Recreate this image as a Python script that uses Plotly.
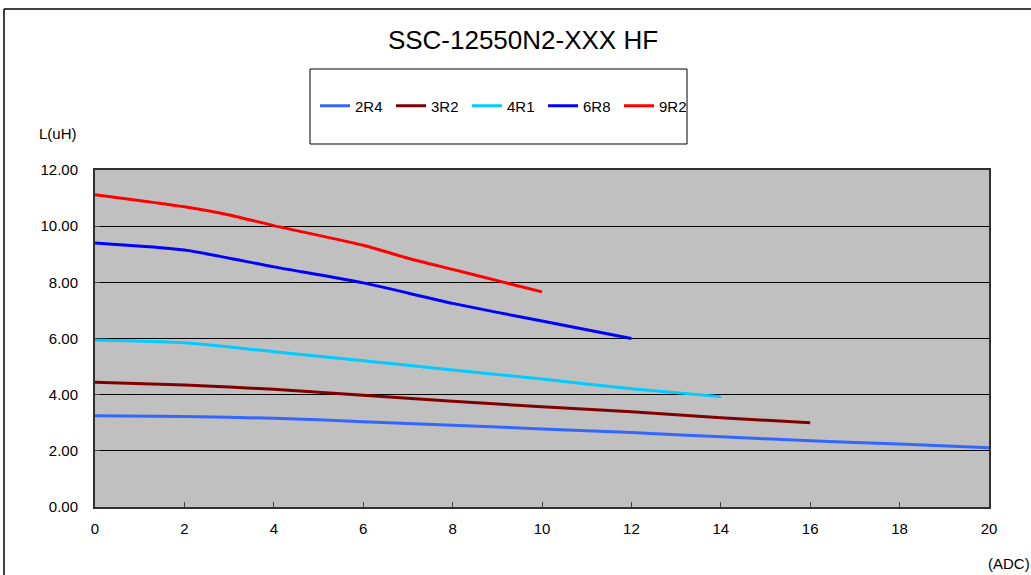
import plotly.graph_objects as go

title_text = "SSC-12550N2-XXX HF"
series_names = ["2R4", "3R2", "4R1", "6R8", "9R2"]
series_colors = ["#3366FF", "#800000", "#00CCFF", "#0000FF", "#FF0000"]

x_2r4 = [0, 2, 4, 6, 8, 10, 12, 14, 16, 18, 20]
y_2r4 = [3.25, 3.22, 3.16, 3.04, 2.91, 2.78, 2.65, 2.50, 2.36, 2.24, 2.11]

x_3r2 = [0, 2, 4, 6, 8, 10, 12, 14, 16]
y_3r2 = [4.44, 4.34, 4.19, 3.98, 3.77, 3.57, 3.39, 3.18, 3.00]

x_4r1 = [0, 2, 4, 6, 8, 10, 12, 14]
y_4r1 = [5.95, 5.85, 5.53, 5.21, 4.88, 4.56, 4.21, 3.93]

x_6r8 = [0, 2, 4, 6, 8, 10, 12]
y_6r8 = [9.40, 9.15, 8.55, 7.98, 7.25, 6.62, 6.00]

x_9r2 = [0, 2, 3, 4, 6, 7, 8, 9, 10]
y_9r2 = [11.12, 10.69, 10.40, 10.02, 9.32, 8.86, 8.46, 8.06, 7.66]

xs = [x_2r4, x_3r2, x_4r1, x_6r8, x_9r2]
ys = [y_2r4, y_3r2, y_4r1, y_6r8, y_9r2]

FONT = "Liberation Sans, Arial, sans-serif"

fig = go.Figure()
for name, color, xv, yv in zip(series_names, series_colors, xs, ys):
    fig.add_trace(go.Scatter(
        x=xv, y=yv, name=name, mode="lines",
        line=dict(color=color, width=3, shape="spline", smoothing=0.6),
    ))

W, H = 1031, 575
L, R, T, B = 95, 989, 170, 507

def px_x(p):
    return (p - L) / (R - L)

def px_y(p):
    return (B - p) / (B - T)

fig.update_layout(
    width=W, height=H,
    margin=dict(l=L, r=W - R, t=T, b=H - B, pad=0),
    paper_bgcolor="white",
    plot_bgcolor="#C0C0C0",
    font=dict(family=FONT, size=15, color="black"),
    title=dict(text=title_text, x=px_x(523), xref="paper", xanchor="center",
               y=1 - 40 / H, yref="container", yanchor="middle",
               font=dict(family=FONT, size=26, color="black")),
    showlegend=True,
    legend=dict(orientation="h", x=px_x(505), xanchor="center",
                y=px_y(106), yanchor="middle",
                bgcolor="rgba(0,0,0,0)", borderwidth=0,
                font=dict(family=FONT, size=15, color="black"),
                itemwidth=30, tracegroupgap=0,
                entrywidth=31, entrywidthmode="pixels"),
    xaxis=dict(range=[0, 20], dtick=2, tick0=0, showgrid=False, zeroline=False,
               showline=True, linecolor="#303030", linewidth=2, mirror=True,
               ticks="inside", ticklen=5, tickcolor="#404040", tickwidth=1,
               ticklabelstandoff=7,
               tickfont=dict(family=FONT, size=15, color="black")),
    yaxis=dict(range=[0, 12], dtick=2, tick0=0, tickformat=".2f",
               showgrid=True, gridcolor="black", gridwidth=1, zeroline=False,
               showline=True, linecolor="#303030", linewidth=2, mirror=True,
               ticks="inside", ticklen=5, tickcolor="#404040", tickwidth=1,
               ticklabelstandoff=12,
               tickfont=dict(family=FONT, size=15, color="black")),
    shapes=[
        dict(type="rect", xref="paper", yref="paper",
             x0=px_x(310), x1=px_x(687), y0=px_y(144), y1=px_y(69),
             line=dict(color="black", width=1), fillcolor="rgba(0,0,0,0)", layer="above"),
        dict(type="line", xref="paper", yref="paper",
             x0=px_x(4), x1=px_x(4), y0=px_y(9), y1=px_y(580),
             line=dict(color="black", width=1.5)),
        dict(type="line", xref="paper", yref="paper",
             x0=px_x(4), x1=px_x(1040), y0=px_y(9), y1=px_y(9),
             line=dict(color="black", width=1.5)),
    ],
    annotations=[
        dict(text="L(uH)", xref="paper", yref="paper", x=px_x(58), y=px_y(133),
             xanchor="center", yanchor="middle", showarrow=False,
             font=dict(family=FONT, size=15, color="black")),
        dict(text="(ADC)", xref="paper", yref="paper", x=px_x(1009), y=px_y(563),
             xanchor="center", yanchor="middle", showarrow=False,
             font=dict(family=FONT, size=15, color="black")),
    ],
)

fig.write_html("out.html",
               config={"displayModeBar": False},
               post_script="document.body.style.margin='0';document.body.style.overflow='hidden';")
